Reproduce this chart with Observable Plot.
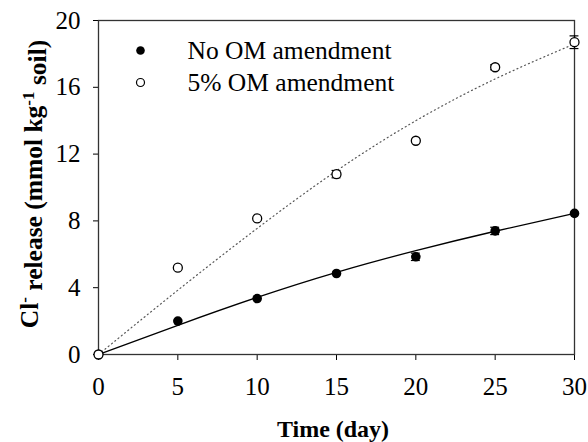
<!DOCTYPE html>
<html><head><meta charset="utf-8">
<script src="https://cdn.jsdelivr.net/npm/d3@7"></script>
<script src="https://cdn.jsdelivr.net/npm/@observablehq/plot@0.6"></script>
<style>
body{margin:0;background:#fff}
svg text{font-family:"Liberation Serif","Times New Roman",serif !important;}
</style>
</head><body><div id="chart"></div>
<script>
const days = [0, 5, 10, 15, 20, 25, 30];
const noOM = [0, 2.0, 3.35, 4.85, 5.85, 7.4, 8.45];
const noOMErr = [0, 0.08, 0.1, 0.1, 0.22, 0.22, 0.1];
const om5 = [0, 5.2, 8.15, 10.8, 12.8, 17.2, 18.7];
const om5Err = [0, 0.1, 0.1, 0.22, 0.1, 0.15, 0.38];
const fitNoOM = [0, 1.75, 3.42, 4.92, 6.22, 7.38, 8.45];
const fitOM5 = [0, 3.85, 7.55, 11.0, 14.0, 16.5, 18.6];
const xTicks = [0, 5, 10, 15, 20, 25, 30];
const yTicks = [0, 4, 8, 12, 16, 20];
const seriesLabels = ["No OM amendment", "5% OM amendment"];
const xTitle = "Time (day)";

const rowsNo = days.map((d, i) => ({day: d, v: noOM[i], e: noOMErr[i]}));
const rowsOM = days.map((d, i) => ({day: d, v: om5[i], e: om5Err[i]}));
const fitNo = days.map((d, i) => ({day: d, v: fitNoOM[i]}));
const fitOM = days.map((d, i) => ({day: d, v: fitOM5[i]}));
const errRows = [...rowsNo, ...rowsOM].filter(r => r.e > 0.12);
const capW = 0.28;
const FF = "'Liberation Serif', 'Times New Roman', serif";

const chart = Plot.plot({
  width: 588, height: 442,
  marginLeft: 98, marginRight: 14, marginTop: 20, marginBottom: 88,
  style: {fontFamily: FF, fontSize: "24px", color: "#000", background: "#fff"},
  x: {domain: [0, 30], label: null},
  y: {domain: [0, 20], label: null},
  marks: [
    Plot.axisX({ticks: xTicks, tickSize: 6, tickPadding: 17, fontSize: 25, fontFamily: FF, label: null}),
    Plot.axisY({ticks: yTicks, tickSize: 5, tickPadding: 13, fontSize: 25, fontFamily: FF, label: null}),
    Plot.frame({stroke: "#333", strokeWidth: 1.3}),
    Plot.line(fitOM, {x: "day", y: "v", curve: "natural", stroke: "#555", strokeWidth: 1.2, strokeDasharray: "1,3.2"}),
    Plot.line(fitNo, {x: "day", y: "v", curve: "natural", stroke: "#000", strokeWidth: 1.3}),
    Plot.ruleX(errRows, {x: "day", y1: d => d.v - d.e, y2: d => d.v + d.e, stroke: "#000", strokeWidth: 1.2}),
    Plot.ruleY(errRows, {y: d => d.v - d.e, x1: d => d.day - capW, x2: d => Math.min(30.3, d.day + capW), stroke: "#000", strokeWidth: 1.2}),
    Plot.ruleY(errRows, {y: d => d.v + d.e, x1: d => d.day - capW, x2: d => Math.min(30.3, d.day + capW), stroke: "#000", strokeWidth: 1.2}),
    Plot.dot(rowsNo, {x: "day", y: "v", r: 4.8, fill: "#000", stroke: "none"}),
    Plot.dot(rowsOM, {x: "day", y: "v", r: 4.5, fill: "#fff", stroke: "#000", strokeWidth: 1.3}),
    Plot.dot([seriesLabels[0]], {frameAnchor: "top-left", dx: 42, dy: 30, r: 4.3, fill: "#000", stroke: "none"}),
    Plot.dot([seriesLabels[1]], {frameAnchor: "top-left", dx: 42, dy: 62, r: 4, fill: "#fff", stroke: "#000", strokeWidth: 1.2}),
    Plot.text([seriesLabels[0]], {frameAnchor: "top-left", lineAnchor: "middle", dx: 89, dy: 30, text: d => d, textAnchor: "start", fontSize: 25.5, fontFamily: FF, fill: "#000"}),
    Plot.text([seriesLabels[1]], {frameAnchor: "top-left", lineAnchor: "middle", dx: 89, dy: 62, text: d => d, textAnchor: "start", fontSize: 25.5, fontFamily: FF, fill: "#000"})
  ]
});
document.getElementById("chart").append(chart);

const svg = d3.select(chart);
svg.append("text")
  .attr("x", 333).attr("y", 437)
  .attr("text-anchor", "middle")
  .style("font-weight", "bold").style("font-size", "24px")
  .text(xTitle);

const yl = svg.append("text")
  .attr("transform", "translate(38,184) rotate(-90)")
  .attr("text-anchor", "middle")
  .style("font-weight", "bold").style("font-size", "25.5px");
yl.append("tspan").text("Cl");
yl.append("tspan").attr("dy", "-0.45em").style("font-size", "17px").text("-");
yl.append("tspan").attr("dy", "0.45em").text(" release (mmol kg");
yl.append("tspan").attr("dy", "-0.45em").style("font-size", "17px").text("-1");
yl.append("tspan").attr("dy", "0.45em").text(" soil)");
</script>
</body></html>
